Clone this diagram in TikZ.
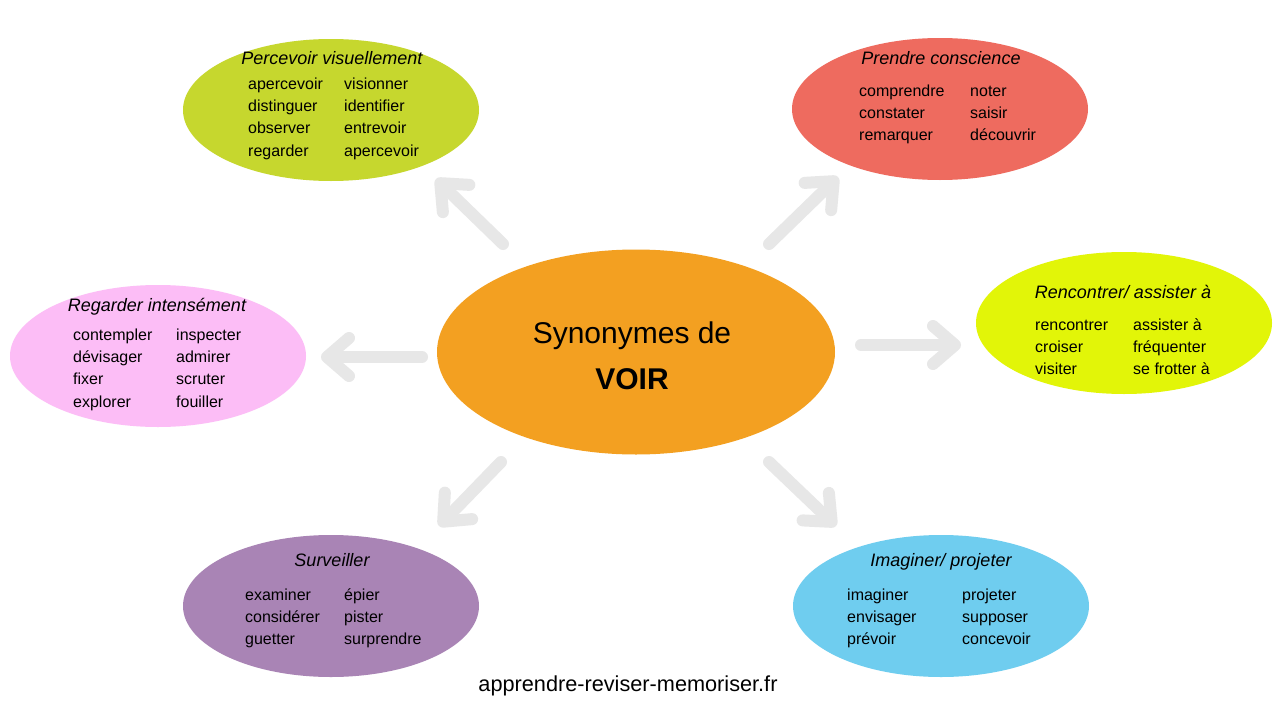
\documentclass[tikz,border=0pt]{standalone}
\usepackage{fontspec}
\setmainfont{Liberation Sans}
\usetikzlibrary{shapes, arrows.meta, positioning}
\definecolor{orangec}{HTML}{F3A021}
\definecolor{citron}{HTML}{C6D72E}
\definecolor{corail}{HTML}{EE6B5F}
\definecolor{jaunev}{HTML}{E2F508}
\definecolor{rose}{HTML}{FCBDF6}
\definecolor{violet}{HTML}{A984B5}
\definecolor{ciel}{HTML}{6FCDEF}
\definecolor{gris}{HTML}{E7E7E7}

\begin{document}
\begin{tikzpicture}[x=1pt,y=-1pt,
	bulle/.style={ellipse, inner sep=0pt, minimum width=296pt, minimum height=142pt},
	titre/.style={font=\fontsize{18}{21}\selectfont\itshape, inner sep=0pt, text height=12pt, text depth=4pt},
	mot/.style={anchor=west, font=\fontsize{16}{19}\selectfont, inner sep=0pt, text height=11pt, text depth=3pt},
	fleche/.style={draw=gris, line width=12pt, line cap=round, -{Straight Barb[length=22pt, width=38pt, round]}}]
	\useasboundingbox[fill=white] (0,0) rectangle (1280,720);

	% bulles
	\node[bulle, fill=orangec, minimum width=398pt, minimum height=205pt] (c) at (636,352) {};
	\node[bulle, fill=citron] (pv) at (331,110) {};
	\node[bulle, fill=corail] (pc) at (940,109) {};
	\node[bulle, fill=jaunev] (ra) at (1124,323) {};
	\node[bulle, fill=rose] (ri) at (158,356) {};
	\node[bulle, fill=violet] (sv) at (331,606) {};
	\node[bulle, fill=ciel] (ip) at (941,606) {};

	% centre
	\node[font=\fontsize{30}{34}\selectfont] (c1) at (632,336) {Synonymes de};
	\node[font=\fontsize{30}{34}\selectfont\bfseries] (c2) at (632,379) {VOIR};

	% fleches
	\coordinate (f1a) at (503,244); \coordinate (f1b) at (436,179);
	\coordinate (f2a) at (769,244); \coordinate (f2b) at (838,177);
	\coordinate (f3a) at (422,357); \coordinate (f3b) at (321,357);
	\coordinate (f4a) at (861,345); \coordinate (f4b) at (961,345);
	\coordinate (f5a) at (501,462); \coordinate (f5b) at (439,526);
	\coordinate (f6a) at (769,462); \coordinate (f6b) at (836,526);
	\foreach \i in {1,...,6}
		\draw[fleche] (f\i a) -- (f\i b);

	% Percevoir visuellement
	\node[titre] (pv-t) at (332,60) {Percevoir visuellement};
	\foreach \w [count=\i] in {apercevoir,distinguer,observer,regarder}
		\node[mot] (pv-g\i) at (248,{85+22.4*(\i-1)}) {\w};
	\foreach \w [count=\i] in {visionner,identifier,entrevoir,apercevoir}
		\node[mot] (pv-d\i) at (344,{85+22.4*(\i-1)}) {\w};

	% Prendre conscience
	\node[titre] (pc-t) at (941,60) {Prendre conscience};
	\foreach \w [count=\i] in {comprendre,constater,remarquer}
		\node[mot] (pc-g\i) at (859,{92+22.4*(\i-1)}) {\w};
	\foreach \w [count=\i] in {noter,saisir,découvrir}
		\node[mot] (pc-d\i) at (970,{92+22.4*(\i-1)}) {\w};

	% Rencontrer
	\node[titre] (ra-t) at (1123,294) {Rencontrer/ assister à};
	\foreach \w [count=\i] in {rencontrer,croiser,visiter}
		\node[mot] (ra-g\i) at (1035,{326+22.4*(\i-1)}) {\w};
	\foreach \w [count=\i] in {assister à,fréquenter,se frotter à}
		\node[mot] (ra-d\i) at (1133,{326+22.4*(\i-1)}) {\w};

	% Regarder intensement
	\node[titre] (ri-t) at (157,307) {Regarder intensément};
	\foreach \w [count=\i] in {contempler,dévisager,fixer,explorer}
		\node[mot] (ri-g\i) at (73,{336+22.4*(\i-1)}) {\w};
	\foreach \w [count=\i] in {inspecter,admirer,scruter,fouiller}
		\node[mot] (ri-d\i) at (176,{336+22.4*(\i-1)}) {\w};

	% Surveiller
	\node[titre] (sv-t) at (332,562) {Surveiller};
	\foreach \w [count=\i] in {examiner,considérer,guetter}
		\node[mot] (sv-g\i) at (245,{596+22.4*(\i-1)}) {\w};
	\foreach \w [count=\i] in {épier,pister,surprendre}
		\node[mot] (sv-d\i) at (344,{596+22.4*(\i-1)}) {\w};

	% Imaginer
	\node[titre] (ip-t) at (941,562) {Imaginer/ projeter};
	\foreach \w [count=\i] in {imaginer,envisager,prévoir}
		\node[mot] (ip-g\i) at (847,{596+22*(\i-1)}) {\w};
	\foreach \w [count=\i] in {projeter,supposer,concevoir}
		\node[mot] (ip-d\i) at (962,{596+22*(\i-1)}) {\w};

	\node[font=\fontsize{21.7}{25}\selectfont] (site) at (628,686) {apprendre-reviser-memoriser.fr};
\end{tikzpicture}
\end{document}
